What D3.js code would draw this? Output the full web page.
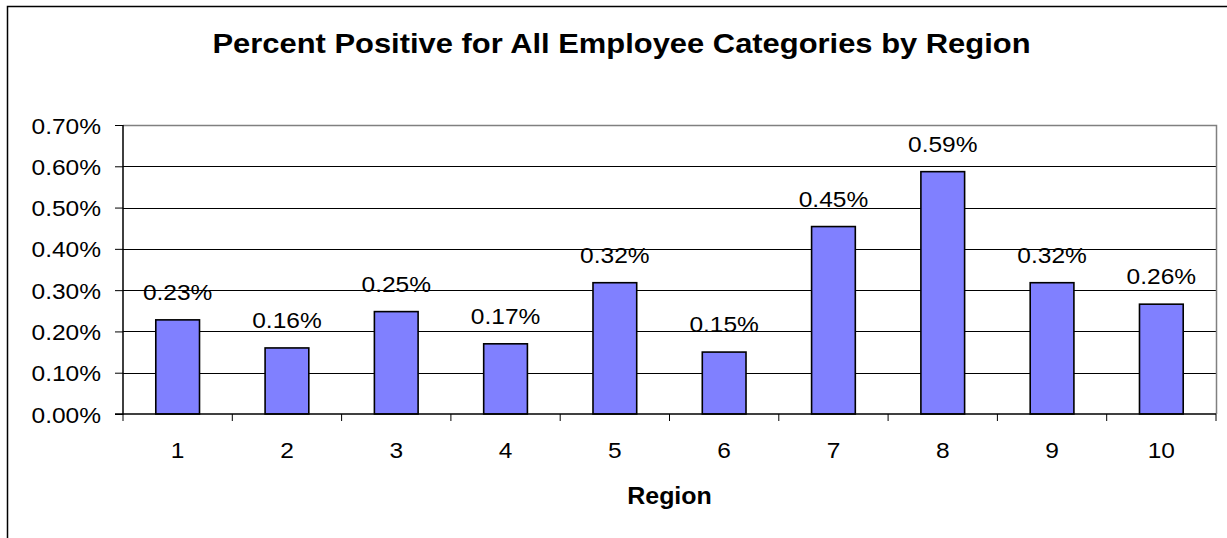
<!DOCTYPE html>
<html><head><meta charset="utf-8">
<script src="https://cdn.jsdelivr.net/npm/d3@7"></script>
<style>body{margin:0;background:#fff;}svg{display:block;font-family:"Liberation Sans",Arial,sans-serif;}</style>
</head><body>
<svg id="c" width="1227" height="538"></svg>
<script>
const regions = ["1","2","3","4","5","6","7","8","9","10"];
const values = [0.228, 0.160, 0.248, 0.170, 0.318, 0.150, 0.454, 0.587, 0.318, 0.266];
const valueLabels = ["0.23%","0.16%","0.25%","0.17%","0.32%","0.15%","0.45%","0.59%","0.32%","0.26%"];
const yTicks = [0,0.1,0.2,0.3,0.4,0.5,0.6,0.7];
const title = "Percent Positive for All Employee Categories by Region";
const xTitle = "Region";

const svg = d3.select("#c");
const L = 123, R = 1216, T = 125, B = 414;
const FS = 21.5, SX = 1.14;

// outer chart border (left & top visible)
svg.append("rect").attr("x",7.5).attr("y",6.5).attr("width",1240).attr("height",560)
  .attr("fill","none").attr("stroke","#000").attr("stroke-width",1.5);

const x = d3.scaleBand().domain(regions).range([L,R]).padding(0);
const y = d3.scaleLinear().domain([0,0.7]).range([B,T]);

// gridlines
svg.append("g").selectAll("line").data(yTicks.filter(d=>d>0 && d<0.7)).join("line")
  .attr("x1",L).attr("x2",R).attr("y1",d=>Math.round(y(d))+0.5).attr("y2",d=>Math.round(y(d))+0.5)
  .attr("stroke","#000").attr("stroke-width",1);
// plot border top/right gray
svg.append("path").attr("d",`M${L},${T+0.5}H${R+0.5}V${B}`).attr("fill","none").attr("stroke","#808080").attr("stroke-width",1.5);

// bars
const bw = x.bandwidth()*0.4;
svg.append("g").selectAll("rect").data(values).join("rect")
  .attr("x",(d,i)=>x(regions[i])+x.bandwidth()/2-bw/2)
  .attr("y",d=>y(d)).attr("width",bw).attr("height",d=>B-y(d))
  .attr("fill","#8080FF").attr("stroke","#000").attr("stroke-width",1.6);

// value labels
svg.append("g").selectAll("text").data(values).join("text")
  .attr("transform",(d,i)=>`translate(${x(regions[i])+x.bandwidth()/2},${y(d)-20}) scale(${SX},1)`)
  .attr("text-anchor","middle")
  .attr("font-size",FS).attr("fill","#000").text((d,i)=>valueLabels[i]);

// y axis
const yAxis = d3.axisLeft(y).tickValues(yTicks).tickFormat(d=>d.toFixed(2)+"%").tickSize(8).tickPadding(14);
const gy = svg.append("g").attr("transform",`translate(${L},0)`).call(yAxis);
gy.select(".domain").attr("stroke","#000").attr("stroke-width",1.5).attr("d",`M-8,${B}H0V${T}`);
gy.selectAll(".tick line").attr("stroke","#000");
gy.selectAll(".tick text").attr("x",null).attr("dy",null)
  .attr("transform",`translate(-22,8) scale(${SX},1)`)
  .attr("font-size",FS).attr("font-family","Liberation Sans, Arial, sans-serif").attr("fill","#000");

// x axis
const xTickPos = d3.range(regions.length+1).map(i=>L+i*x.step());
svg.append("line").attr("x1",L).attr("x2",R).attr("y1",B).attr("y2",B).attr("stroke","#000").attr("stroke-width",1.5);
svg.append("g").selectAll("line").data(xTickPos).join("line")
  .attr("x1",d=>d).attr("x2",d=>d).attr("y1",B).attr("y2",B+7).attr("stroke","#000");
svg.append("g").selectAll("text").data(regions).join("text")
  .attr("transform",d=>`translate(${x(d)+x.bandwidth()/2},458) scale(${SX},1)`).attr("text-anchor","middle")
  .attr("font-size",FS).attr("fill","#000").text(d=>d);

// axis title
svg.append("text").attr("transform",`translate(${(L+R)/2},504) scale(1.04,1)`).attr("text-anchor","middle")
  .attr("font-size",24).attr("font-weight","bold").text(xTitle);

// chart title
svg.append("text").attr("transform","translate(621.5,53) scale(1.104,1)").attr("text-anchor","middle")
  .attr("font-size",28).attr("font-weight","bold").text(title);
</script>
</body></html>
